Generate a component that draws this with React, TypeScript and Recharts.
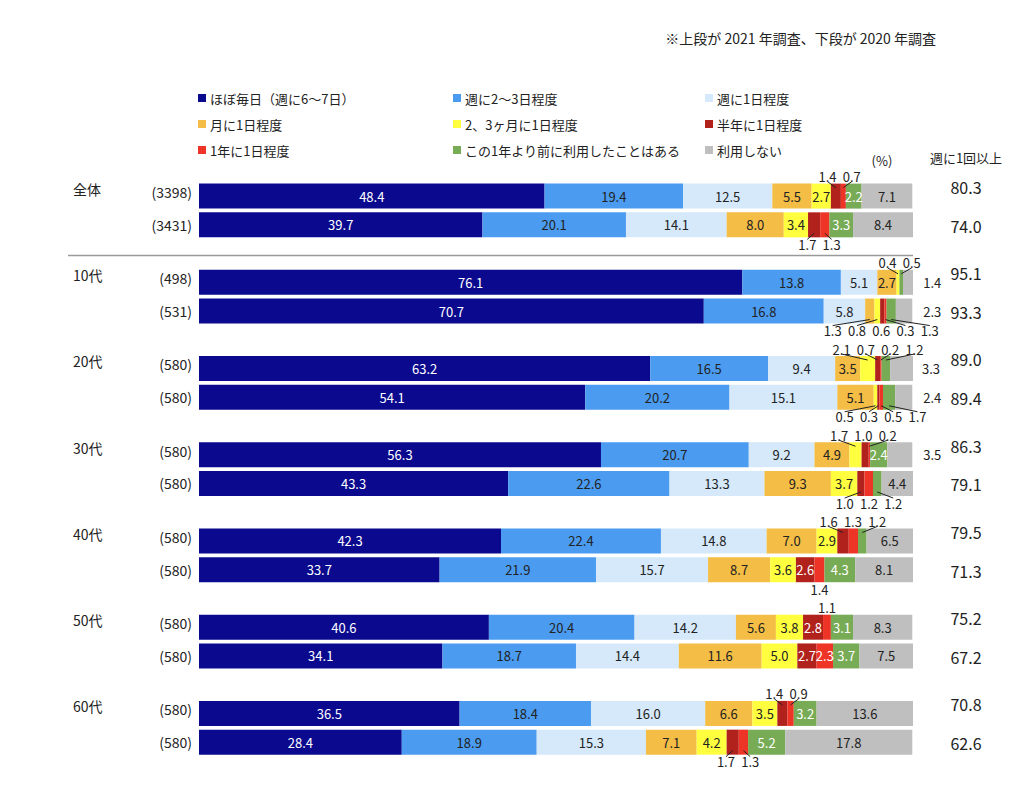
import { Bar, BarChart, LabelList, XAxis, YAxis } from "recharts";

const groups = ["全体", "10代", "20代", "30代", "40代", "50代", "60代"];
const sampleSizes = [3398, 3431, 498, 531, 580, 580, 580, 580, 580, 580, 580, 580, 580, 580];
const weeklyOrMore = [80.3, 74.0, 95.1, 93.3, 89.0, 89.4, 86.3, 79.1, 79.5, 71.3, 75.2, 67.2, 70.8, 62.6];

const seriesNames = ["ほぼ毎日（週に6〜7日）", "週に2〜3日程度", "週に1日程度", "月に1日程度", "2、3ヶ月に1日程度", "半年に1日程度", "1年に1日程度", "この1年より前に利用したことはある", "利用しない"];

// rows: 全体 2021, 全体 2020, 10代 2021, 10代 2020, ... 60代 2020
const almostDaily = [48.4, 39.7, 76.1, 70.7, 63.2, 54.1, 56.3, 43.3, 42.3, 33.7, 40.6, 34.1, 36.5, 28.4];
const twoThreeWeekly = [19.4, 20.1, 13.8, 16.8, 16.5, 20.2, 20.7, 22.6, 22.4, 21.9, 20.4, 18.7, 18.4, 18.9];
const oncePerWeek = [12.5, 14.1, 5.1, 5.8, 9.4, 15.1, 9.2, 13.3, 14.8, 15.7, 14.2, 14.4, 16.0, 15.3];
const oncePerMonth = [5.5, 8.0, 2.7, 1.3, 3.5, 5.1, 4.9, 9.3, 7.0, 8.7, 5.6, 11.6, 6.6, 7.1];
const everyFewMonths = [2.7, 3.4, 0.4, 0.8, 2.1, 0.5, 1.7, 3.7, 2.9, 3.6, 3.8, 5.0, 3.5, 4.2];
const halfYearly = [1.4, 1.7, 0, 0.6, 0.7, 0.3, 1.0, 1.0, 1.6, 2.6, 2.8, 2.7, 1.4, 1.7];
const yearly = [0.7, 1.3, 0, 0.3, 0.2, 0.5, 0.2, 1.2, 1.3, 1.4, 1.1, 2.3, 0.9, 1.3];
const beforeLastYear = [2.2, 3.3, 0.5, 1.3, 1.2, 1.7, 2.4, 1.2, 1.2, 4.3, 3.1, 3.7, 3.2, 5.2];
const neverUsed = [7.1, 8.4, 1.4, 2.3, 3.3, 2.4, 3.5, 4.4, 6.5, 8.1, 8.3, 7.5, 13.6, 17.8];

const seriesValues = [almostDaily, twoThreeWeekly, oncePerWeek, oncePerMonth, everyFewMonths, halfYearly, yearly, beforeLastYear, neverUsed];

const colors = ["#0b0a8e", "#4b9cf0", "#d5e9fa", "#f4bd45", "#ffff40", "#b0221b", "#ee3327", "#77ab55", "#bfbfbf"];
const textColors = ["#fff", "#222", "#222", "#222", "#222", "#fff", "#fff", "#fff", "#222"];

const FONT = '"Noto Sans CJK JP", "Noto Sans", sans-serif';
const W = 1008;
const H = 777;
const PLOT_RIGHT = 905;
const GAP = 3.4; // min distance between outside labels, in %

type Place = { mode: "in" | "up" | "down" | "right"; pos: number; center: number; start: number };

const rowCount = almostDaily.length;
const layout: (Place | null)[][] = Array.from({ length: rowCount }, (_, r) => {
  const vals = seriesValues.map((s) => s[r]);
  let acc = 0;
  const out = vals.map((v, k) => {
    const start = acc;
    acc += v;
    if (!v) return null;
    const center = start + v / 2;
    if (k === 8 && v < 4) return { mode: "right", pos: 102.7, center, start } as Place;
    if (v < 2.2) return { mode: r % 2 === 0 ? "up" : "down", pos: center, center, start } as Place;
    return { mode: "in", pos: center, center, start } as Place;
  });
  const outs = out.filter((o): o is Place => !!o && (o.mode === "up" || o.mode === "down"));
  for (let i = 1; i < outs.length; i++) if (outs[i].pos < outs[i - 1].pos + GAP) outs[i].pos = outs[i - 1].pos + GAP;
  if (outs.length > 1) {
    const shift = outs.reduce((a, o) => a + o.center - o.pos, 0) / outs.length;
    outs.forEach((o) => (o.pos += shift));
  }
  return out;
});

const data: any[] = [];
groups.forEach((g, gi) => {
  [0, 1].forEach((j) => {
    const r = gi * 2 + j;
    const row: any = { key: `r${r}`, r, group: g, n: sampleSizes[r], weekly: weeklyOrMore[r] };
    seriesValues.forEach((s, k) => (row[`s${k}`] = s[r]));
    data.push(row);
  });
  if (gi < groups.length - 1) data.push({ key: `sp${gi}`, spacer: gi });
});

// label value = row number, so each label finds its own row whatever the entry index is
const rowOf = (d: any) => (d.spacer !== undefined ? undefined : d.r);

const makeLabel = (k: number) => (props: any) => {
  const r = props.value;
  if (r == null || typeof r !== "number") return null;
  const v = seriesValues[k][r];
  const p = layout[r][k];
  if (!v || !p) return null;
  const vb = props.viewBox ?? props;
  const { x, y, width, height } = vb;
  const per = width / v;
  const lx = x + (p.pos - p.start) * per;
  const cx = x + (p.center - p.start) * per;
  const txt = v.toFixed(1);
  const base = { fontSize: 13, fontFamily: FONT, textAnchor: "middle" as const, dominantBaseline: "central" as const };
  if (p.mode === "in") return <text x={lx} y={y + height / 2} fill={textColors[k]} {...base}>{txt}</text>;
  if (p.mode === "right") return <text x={lx} y={y + height / 2} fill="#222" {...base}>{txt}</text>;
  const up = p.mode === "up";
  const ly = up ? y - 7 : y + height + 7;
  const lead = Math.abs(lx - cx) > 4;
  return (
    <g>
      {lead && <line x1={cx} y1={up ? y + 4 : y + height - 4} x2={lx} y2={up ? ly + 5 : ly - 5} stroke="#222" strokeWidth={1} />}
      <text x={lx} y={ly} fill="#222" {...base}>{txt}</text>
    </g>
  );
};

const RowTick = (props: any) => {
  const { y, payload } = props;
  const row = data.find((d) => d.key === payload.value);
  if (!row) return null;
  if (row.spacer !== undefined) {
    return row.spacer === 0 ? <line x1={60} x2={PLOT_RIGHT} y1={y + 2} y2={y + 2} stroke="#9a9a9a" strokeWidth={1.5} /> : null;
  }
  const first = row.r % 2 === 0;
  const t = { fontFamily: FONT, fill: "#222", dominantBaseline: "central" as const };
  return (
    <g>
      {first && <text x={65} y={y - 7} fontSize={14} {...t}>{row.group}</text>}
      <text x={184} y={first ? y - 4 : y} fontSize={14} textAnchor="end" {...t}>({row.n})</text>
      <text x={958} y={first ? y - 9 : y + 1} fontSize={16} textAnchor="middle" {...t}>{row.weekly.toFixed(1)}</text>
    </g>
  );
};

const legendCols = [190, 445, 697];
const legendRows = [90, 116, 142];

export default function App() {
  return (
    <div style={{ position: "relative", width: W, height: H, fontFamily: FONT, color: "#222" }}>
      <div style={{ position: "absolute", right: W - 928, top: 20, fontSize: 14, lineHeight: "20px", whiteSpace: "nowrap" }}>
        ※上段が 2021 年調査、下段が 2020 年調査
      </div>
      {seriesNames.map((name, k) => (
        <div key={name} style={{ position: "absolute", left: legendCols[k % 3], top: legendRows[Math.floor(k / 3)] - 10, height: 20, display: "flex", alignItems: "center", fontSize: 13, whiteSpace: "nowrap" }}>
          <span style={{ width: 8, height: 8, background: colors[k], marginRight: 4, display: "inline-block" }} />
          {name}
        </div>
      ))}
      <div style={{ position: "absolute", left: 874, top: 152, transform: "translate(-50%, -50%)", fontSize: 13 }}>(%)</div>
      <div style={{ position: "absolute", left: 958, top: 149, transform: "translate(-50%, -50%)", fontSize: 13, whiteSpace: "nowrap" }}>週に1回以上</div>
      <div style={{ position: "absolute", left: 0, top: 0 }}>
        <BarChart width={W} height={H} data={data} layout="vertical" margin={{ top: 173.6, right: W - PLOT_RIGHT, bottom: 28.6, left: 0 }} barSize={25}>
          <XAxis type="number" domain={[0, 100]} allowDataOverflow hide />
          <YAxis type="category" dataKey="key" width={191} axisLine={false} tickLine={false} interval={0} tick={<RowTick />} />
          {seriesNames.map((name, k) => (
            <Bar key={name} dataKey={`s${k}`} name={name} stackId="a" fill={colors[k]} isAnimationActive={false}>
              <LabelList dataKey={rowOf} content={makeLabel(k)} />
            </Bar>
          ))}
        </BarChart>
      </div>
    </div>
  );
}
